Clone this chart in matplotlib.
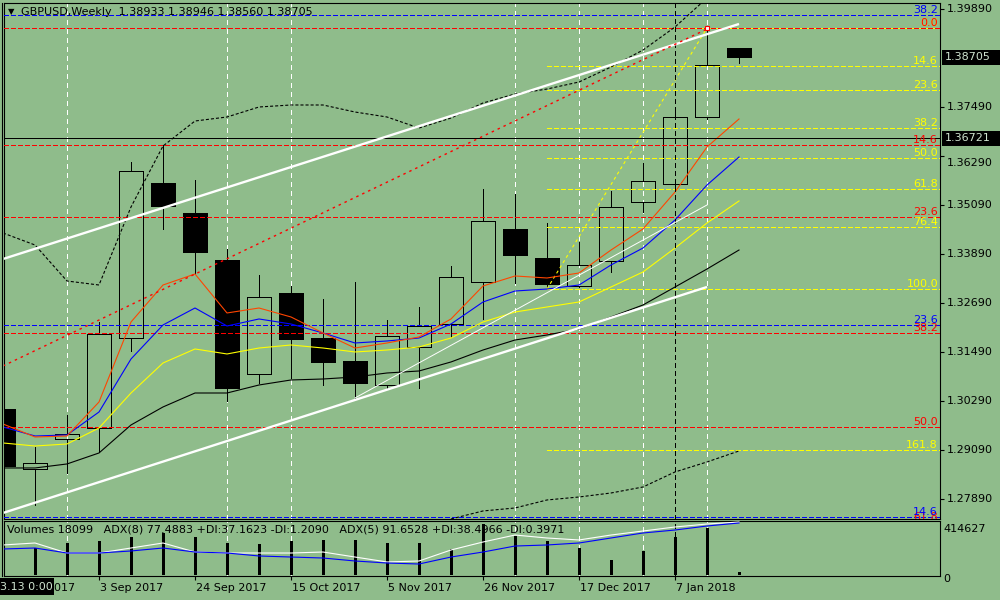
import matplotlib
matplotlib.use("Agg")
import matplotlib.pyplot as plt
import numpy as np
from matplotlib.patches import Rectangle
from matplotlib.transforms import blended_transform_factory, offset_copy

plt.rcParams['font.family'] = ['DejaVu Sans']
plt.rcParams['font.size'] = 8
plt.rcParams['lines.scale_dashes'] = False

# ---------------- data ----------------
symbol_header = "GBPUSD,Weekly  1.38933 1.38946 1.38560 1.38705"
volume_header = ("Volumes 18099   ADX(8) 77.4883 +DI:37.1623 -DI:1.2090   "
                 "ADX(5) 91.6528 +DI:38.4966 -DI:0.3971")

date_labels = ["13 Aug 2017", "3 Sep 2017", "24 Sep 2017", "15 Oct 2017",
               "5 Nov 2017", "26 Nov 2017", "17 Dec 2017", "7 Jan 2018"]
date_label_week = [0, 3, 6, 9, 12, 15, 18, 21]
grid_weeks = [2, 7, 9, 16, 18, 20, 22]
cursor_week = 21
cursor_text = "3.13 0:00"

opens = [1.30094, 1.28625, 1.29359, 1.29629, 1.31833, 1.35629, 1.34894, 1.33743,
         1.30951, 1.32935, 1.31833, 1.31270, 1.30682, 1.31612, 1.32176, 1.33204,
         1.34502, 1.33792, 1.33106, 1.33719, 1.35163, 1.35604, 1.37245, 1.38933]
highs = [1.30192, 1.29163, 1.29947, 1.32225, 1.36143, 1.36559, 1.35702, 1.34012,
         1.33376, 1.33106, 1.32788, 1.33204, 1.32274, 1.32592, 1.33596, 1.35482,
         1.35359, 1.34649, 1.34184, 1.35433, 1.36119, 1.37417, 1.39425, 1.38946]
lows = [1.28306, 1.27743, 1.28527, 1.29041, 1.31514, 1.34502, 1.33400, 1.30290,
        1.30731, 1.30853, 1.30682, 1.30363, 1.30608, 1.30608, 1.31857, 1.32298,
        1.33180, 1.33033, 1.33082, 1.33449, 1.34919, 1.35457, 1.37200, 1.38560]
closes = [1.28698, 1.28772, 1.29482, 1.31931, 1.35923, 1.35065, 1.33939, 1.30608,
          1.32837, 1.31808, 1.31245, 1.30731, 1.31882, 1.32127, 1.33327, 1.34698,
          1.33865, 1.33155, 1.33621, 1.35041, 1.35678, 1.37245, 1.38519, 1.38705]

ma_red = [1.29726, 1.29408, 1.29432, 1.30265, 1.32224, 1.33130, 1.33400, 1.32445,
          1.32567, 1.32347, 1.31955, 1.31587, 1.31710, 1.31857, 1.32298, 1.33106,
          1.33351, 1.33302, 1.33424, 1.33987, 1.34502, 1.35408, 1.36510, 1.37196]
ma_blue = [1.29653, 1.29432, 1.29457, 1.30020, 1.31318, 1.32151, 1.32567, 1.32126,
           1.32298, 1.32175, 1.31955, 1.31710, 1.31759, 1.31832, 1.32175, 1.32714,
           1.32983, 1.33032, 1.33130, 1.33620, 1.34036, 1.34722, 1.35579, 1.36265]
ma_yellow = [1.29261, 1.29187, 1.29236, 1.29628, 1.30485, 1.31220, 1.31563, 1.31441,
             1.31587, 1.31661, 1.31587, 1.31490, 1.31538, 1.31612, 1.31832, 1.32224,
             1.32469, 1.32592, 1.32714, 1.33081, 1.33449, 1.34036, 1.34649, 1.35188]
ma_black = [1.28649, 1.28649, 1.28747, 1.29016, 1.29702, 1.30143, 1.30485, 1.30485,
            1.30681, 1.30804, 1.30828, 1.30877, 1.30975, 1.31024, 1.31245, 1.31538,
            1.31783, 1.31906, 1.32053, 1.32347, 1.32641, 1.33081, 1.33522, 1.33987]
bb_upper = [1.34404, 1.34110, 1.33228, 1.33130, 1.35041, 1.36534, 1.37147, 1.37245,
            1.37490, 1.37539, 1.37539, 1.37367, 1.37245, 1.36975, 1.37220, 1.37588,
            1.37808, 1.37930, 1.38102, 1.38469, 1.38885, 1.39449, 1.40159, 1.40796]
nan = float('nan')
bb_lower = [nan, nan, nan, nan, nan, nan, nan, nan, nan, nan, nan, nan, nan, nan,
            1.27400, 1.27596, 1.27669, 1.27865, 1.27938, 1.28036, 1.28183, 1.28551,
            1.28796, 1.29065]

volumes = [390000, 215600, 257100, 273700, 306800, 340000, 306800, 257100,
           248800, 273700, 282000, 282000, 257100, 257100, 207300, 414627,
           315100, 273700, 215600, 116100, 190700, 306800, 381500, 18099]
adx_white = [56.4, 60.0, 41.8, 41.8, 50.9, 60.0, 43.6, 41.8, 41.8, 41.8, 43.6, 34.5,
             25.5, 27.3, 47.3, 61.8, 74.5, 69.1, 65.5, 74.5, 81.8, 89.1, 94.5, 98.2]
adx_blue = [49.1, 50.9, 41.8, 41.8, 45.5, 50.9, 43.6, 41.8, 36.4, 34.5, 32.7, 27.3,
            23.6, 21.8, 34.5, 43.6, 54.5, 56.4, 60.0, 69.1, 78.2, 83.6, 90.9, 96.4]
volume_scale_max = 414627

fib_short_levels = [0.0, 14.6, 23.6, 38.2, 50.0, 61.8, 76.4, 100.0, 161.8]
fib_red_levels = [0.0, 14.6, 23.6, 38.2, 50.0, 61.8, 76.4, 100.0]
fib_blue_levels = [0.0, 14.6, 23.6, 38.2, 50.0, 61.8, 76.4, 100.0]
fib_short_start_week = 17
fib_short_low = 1.33033
fib_short_high = 1.39425
fib_red_high = 1.39425
fib_red_low = 1.19860
fib_blue_low = 1.19860
fib_blue_high = 1.71900

level_line_price = 1.36721
last_price = 1.38705
channel_upper = ([0, 23], [1.33767, 1.39523])
channel_lower = ([0, 22], [1.27547, 1.33082])
trend_red = ([0, 22], [1.31147, 1.39400])
trend_white = ([11, 22], [1.30363, 1.35090])
fan_line = ([17, 22], [1.33033, 1.39425])

price_ticks = [1.39890, 1.37490, 1.36290, 1.35090, 1.33890, 1.32690, 1.31490,
               1.30290, 1.29090, 1.27890]

# ---------------- layout / style ----------------
BG = '#8fbc8b'
BOX_TXT = '#d0e4d0'
W, H = 1000, 600
BAR_PX, FIRST_BAR_PX = 32, 3
X_LEFT_PX, X_RIGHT_PX = 4, 940
XMIN = (X_LEFT_PX - FIRST_BAR_PX) / BAR_PX
XMAX = (X_RIGHT_PX - FIRST_BAR_PX) / BAR_PX
PRICE_TOP, PRICE_BOTTOM = 1.40037, 1.27399
PX_PER_PRICE = 4083.0

fig = plt.figure(figsize=(W / 100, H / 100), dpi=100, facecolor=BG)


def px_axes(left, top, right, bottom):
    return fig.add_axes([left / W, 1 - bottom / H, (right - left) / W, (bottom - top) / H])


ax = px_axes(X_LEFT_PX, 3, X_RIGHT_PX, 519)
axv = px_axes(X_LEFT_PX, 521, X_RIGHT_PX, 576)
for a in (ax, axv):
    a.set_facecolor(BG)
    a.set_xlim(XMIN, XMAX)
    for s in a.spines.values():
        s.set_color('black')
        s.set_linewidth(0.8)
ax.set_ylim(PRICE_BOTTOM, PRICE_TOP)
axv.set_ylim(-16600, 439500)

DASH = (0, (2.9, 1.45))
GRID_DASH = (0, (2.9, 2.9))
BB_DASH = (0, (2.2, 1.45))
DOT = (0, (1.8, 2.9))
PX1 = 0.7  # about one pixel, in points
CRISP = dict(antialiased=False)

idx = np.arange(len(opens))

# grid + cursor
for a in (ax, axv):
    for g in grid_weeks:
        a.axvline(g, color='white', lw=PX1, ls=GRID_DASH, zorder=1.5, **CRISP)
    a.axvline(cursor_week, color='black', lw=PX1, ls=(0, (2.9, 2.2)), zorder=4.5, **CRISP)

# candles
HALF = 0.375
for i in range(len(opens)):
    o, h, l, c = opens[i], highs[i], lows[i], closes[i]
    top, bot = max(o, c), min(o, c)
    ax.vlines(i, top, h, color='black', lw=PX1, zorder=2, antialiaseds=False)
    ax.vlines(i, l, bot, color='black', lw=PX1, zorder=2, antialiaseds=False)
    bull = c >= o
    ax.add_patch(Rectangle((i - HALF, bot), 2 * HALF, top - bot,
                           facecolor='none' if bull else 'black',
                           edgecolor='black', lw=PX1, zorder=2.2, antialiased=False))

# moving averages / bands
ax.plot(idx, ma_black, color='black', lw=0.8, zorder=4)
ax.plot(idx, ma_yellow, color='#ffff00', lw=0.8, zorder=4)
ax.plot(idx, ma_blue, color='#0000ff', lw=0.8, zorder=4)
ax.plot(idx, ma_red, color='#ff4500', lw=0.8, zorder=4)
ax.plot(idx, bb_upper, color='black', lw=0.8, ls=BB_DASH, zorder=4)
ax.plot(idx, bb_lower, color='black', lw=0.8, ls=BB_DASH, zorder=4)

# level labels helper
lab_tr = offset_copy(blended_transform_factory(ax.transAxes, ax.transData), fig=fig,
                     x=-2, y=2, units='dots')
margin = 0.002


def fib_label(level, r, color):
    if PRICE_BOTTOM - margin <= level <= PRICE_TOP + margin:
        ax.text(1, level, f"{r:.1f}", transform=lab_tr, ha='right', va='baseline',
                color=color, fontsize=8, zorder=6, clip_on=True)


# short fibo (yellow)
for r in fib_short_levels:
    lvl = fib_short_high - r / 100 * (fib_short_high - fib_short_low)
    ax.hlines(lvl, fib_short_start_week, XMAX, color='#ffff00', lw=PX1, ls=DASH, zorder=3,
              antialiaseds=False)
    fib_label(lvl, r, '#ffff00')
ax.plot(*fan_line, color='#ffff00', lw=0.8, ls=(0, (2.2, 2.2)), zorder=3)

# red fibo
for r in fib_red_levels:
    lvl = fib_red_high - r / 100 * (fib_red_high - fib_red_low)
    ax.axhline(lvl, color='#ff0000', lw=PX1, ls=DASH, zorder=3, **CRISP)
    fib_label(lvl, r, '#ff0000')

# blue fibo
for r in fib_blue_levels:
    lvl = fib_blue_low + r / 100 * (fib_blue_high - fib_blue_low)
    ax.axhline(lvl, color='#0000ff', lw=PX1, ls=DASH, zorder=3, **CRISP)
    fib_label(lvl, r, '#0000ff')

# horizontal level
ax.axhline(level_line_price, color='black', lw=PX1, zorder=4, **CRISP)

# trend lines
ax.plot(*channel_upper, color='white', lw=1.7, zorder=5, solid_capstyle='butt')
ax.plot(*channel_lower, color='white', lw=1.7, zorder=5, solid_capstyle='butt')
ax.plot(*trend_red, color='#ff0000', lw=1.0, ls=DOT, zorder=5)
ax.plot(*trend_white, color='white', lw=0.7, zorder=5)
ax.plot([fan_line[0][1]], [fan_line[1][1]], marker='s', ms=3.5, mfc='white',
        mec='#ff0000', mew=0.8, zorder=6)

# right price axis
ax.yaxis.tick_right()
ax.set_yticks(price_ticks)
ax.tick_params(axis='y', right=True, left=False, labelright=False, labelleft=False,
               length=3, width=0.8, color='black')
ax.tick_params(axis='x', bottom=False, labelbottom=False)
price_lab_tr = blended_transform_factory(ax.transAxes, ax.transData)
for p in price_ticks:
    dy = -7 if abs(p - 1.36290) < 1e-6 else 0
    ax.text(1, p, f"{p:.5f}", transform=offset_copy(price_lab_tr, fig=fig, x=7, y=dy, units='dots'),
            ha='left', va='center', color='black', fontsize=8, clip_on=False)

box_tr = blended_transform_factory(fig.transFigure, ax.transData)
box_h = 15 / PX_PER_PRICE
for p in (last_price, level_line_price):
    ax.add_patch(Rectangle((942 / W, p - box_h / 2), 58 / W, box_h, transform=box_tr,
                           facecolor='black', edgecolor='none', clip_on=False, zorder=7))
    ax.text(945 / W, p, f"{p:.5f}", transform=box_tr, ha='left', va='center',
            color=BOX_TXT, fontsize=8, clip_on=False, zorder=8)

# header
ax.text(0, 1, "\u25BC", transform=offset_copy(ax.transAxes, fig=fig, x=7, y=-9, units='dots'),
        ha='center', va='center', fontsize=6, color='black', zorder=8)
ax.text(0, 1, symbol_header, transform=offset_copy(ax.transAxes, fig=fig, x=17, y=-9, units='dots'),
        ha='left', va='center', fontsize=8, color='black', zorder=8)

# volume panel
axv.vlines(idx, 0, volumes, color='black', lw=2.16, zorder=2, antialiaseds=False)
axv.set_yticks([])
axv.set_xticks([w for w in date_label_week if w >= XMIN])
axv.tick_params(axis='x', length=3, width=0.8, labelbottom=False)
axa = axv.twinx()
axa.set_xlim(XMIN, XMAX)
axa.set_ylim(0, 100)
axa.plot(idx, adx_white, color='white', lw=0.8, zorder=3)
axa.plot(idx, adx_blue, color='#0000ff', lw=0.8, zorder=3)
axa.axis('off')
axv.text(0, 1, volume_header, transform=offset_copy(axv.transAxes, fig=fig, x=3, y=-9, units='dots'),
         ha='left', va='center', fontsize=8, color='black', zorder=8)
vlab_tr = blended_transform_factory(axv.transAxes, axv.transData)
axv.text(1, volume_scale_max, str(volume_scale_max),
         transform=offset_copy(vlab_tr, fig=fig, x=3, y=-5, units='dots'),
         ha='left', va='center', fontsize=8, clip_on=False)
axv.text(1, 0, "0", transform=offset_copy(vlab_tr, fig=fig, x=3, y=-5, units='dots'),
         ha='left', va='center', fontsize=8, clip_on=False)

# date labels
date_tr = blended_transform_factory(axv.transData, axv.transAxes)
for w, lab in zip(date_label_week, date_labels):
    axv.text(w, 0, lab, transform=offset_copy(date_tr, fig=fig, x=1, y=-12, units='dots'),
             ha='left', va='center', fontsize=8, color='black', clip_on=False)

# cursor date box (bottom left)
fig.add_artist(Rectangle((0, 1 - 595 / H), 54 / W, 17 / H, transform=fig.transFigure,
                         facecolor='black', edgecolor='none', zorder=20))
fig.text(0 / W, 1 - 587 / H, cursor_text, ha='left', va='center', fontsize=8,
         color=BOX_TXT, zorder=21)

# outer left double border
fig.add_artist(plt.Line2D([1.5 / W, 1.5 / W], [1 - 576 / H, 1 - 3 / H],
                          transform=fig.transFigure, color='black', lw=0.8))

fig.savefig("out.png", dpi=100, facecolor=BG)
